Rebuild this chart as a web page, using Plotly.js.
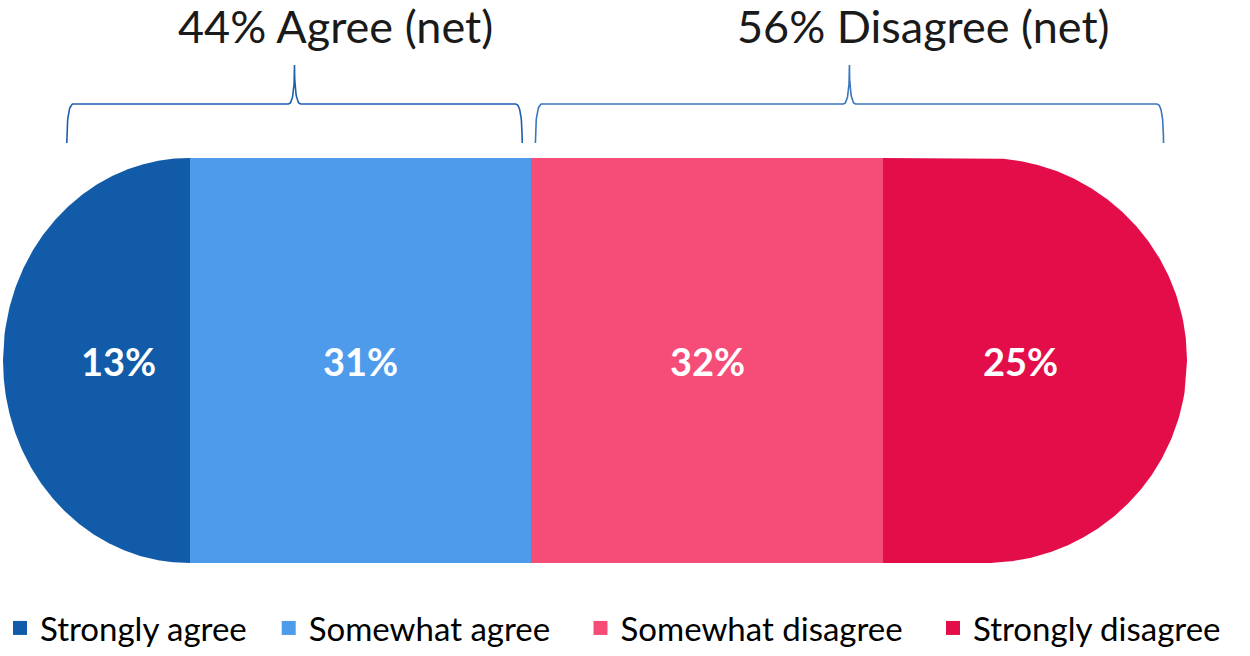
<!DOCTYPE html>
<html>
<head>
<meta charset="utf-8">
<script src="https://cdn.plot.ly/plotly-3.0.1.min.js"></script>
<style>html,body{margin:0;padding:0;background:#fff;}#chart{width:1250px;height:656px;}</style>
</head>
<body>
<div id="chart"></div>
<script>
// ---------- data ----------
const categories = ['Strongly agree', 'Somewhat agree', 'Somewhat disagree', 'Strongly disagree'];
const values = [13, 31, 32, 25];
const netLabels = ['Agree (net)', 'Disagree (net)'];
const netValues = [44, 56];
const netGroups = [[0, 1], [2, 3]];

// ---------- style ----------
const colors = ['#115BA9', '#4E9BEB', '#F54D78', '#E30E49'];
const W = 1250, H = 656;
const PX_PER_UNIT = 11, ZERO_PX = 47;          // x scale
const Y_PX_PER_UNIT = 202.5, Y_ZERO_PX = 360.5; // y scale (bar half-height = 1)
const capOverhangL = 4.0, capOverhangR = 2.64; // how far rounded ends reach past data
const capRxL = 16.9, capRxR = 18.36;           // horizontal radius of end caps
const braceInsets = [[1.8, 0.8], [0.4, -0.5]];
const braceY = {bottom: 1.074, flat: 1.267, peak: 1.459};
const braceCorner = 0.6, braceCusp = 0.55;
const titleX = [26.27, 79.7], titleY = 1.652;
const textFont = 'Lato, "Open Sans", sans-serif';
const legendPads = [2, 3, 3, 0]; // trailing non-breaking spaces per legend entry

// ---------- derived ----------
const total = values.reduce((a, b) => a + b, 0);
const cum = [0];
values.forEach((v, i) => cum.push(cum[i] + v));
const xStart = cum[0] - capOverhangL;
const xEnd = total + capOverhangR;
const cL = xStart + capRxL, cR = xEnd - capRxR;

function halfH(x) {
  if (x < cL) { const d = (cL - x) / capRxL; return Math.sqrt(Math.max(0, 1 - d * d)); }
  if (x > cR) { const d = (x - cR) / capRxR; return Math.sqrt(Math.max(0, 1 - d * d)); }
  return 1;
}

const traces = [];
values.forEach((v, i) => {
  const a = i === 0 ? xStart : cum[i];
  const b = i === values.length - 1 ? xEnd : cum[i + 1];
  const N = 240, xs = [], ys = [];
  for (let k = 0; k <= N; k++) { const x = a + (b - a) * k / N; xs.push(x); ys.push(halfH(x)); }
  for (let k = N; k >= 0; k--) { const x = a + (b - a) * k / N; xs.push(x); ys.push(-halfH(x)); }
  traces.push({
    type: 'scatter', mode: 'lines', x: xs, y: ys, fill: 'toself',
    fillcolor: colors[i], line: {width: 0, color: colors[i]},
    hoverinfo: 'skip', showlegend: false
  });
});

function quad(p0, p1, p2, n, xs, ys) {
  for (let k = 0; k <= n; k++) {
    const t = k / n, u = 1 - t;
    xs.push(u * u * p0[0] + 2 * u * t * p1[0] + t * t * p2[0]);
    ys.push(u * u * p0[1] + 2 * u * t * p1[1] + t * t * p2[1]);
  }
}

const annotations = [];
netGroups.forEach((g, gi) => {
  const x0 = cum[g[0]] + braceInsets[gi][0];
  const x1 = cum[g[g.length - 1] + 1] - braceInsets[gi][1];
  const xm = (x0 + x1) / 2;
  const {bottom, flat, peak} = braceY;
  const xs = [], ys = [];
  quad([x0, bottom], [x0, flat], [x0 + braceCorner, flat], 20, xs, ys);
  quad([xm - braceCusp, flat], [xm, flat], [xm, peak], 20, xs, ys);
  quad([xm, peak], [xm, flat], [xm + braceCusp, flat], 20, xs, ys);
  quad([x1 - braceCorner, flat], [x1, flat], [x1, bottom], 20, xs, ys);
  traces.push({
    type: 'scatter', mode: 'lines', x: xs, y: ys,
    line: {color: gi === 0 ? '#1F5FAE' : '#3A76BE', width: 1.6},
    hoverinfo: 'skip', showlegend: false
  });
  annotations.push({
    x: titleX[gi], y: titleY, xref: 'x', yref: 'y', showarrow: false,
    text: netValues[gi] + '% ' + netLabels[gi],
    font: {family: textFont, size: 45, color: '#1A1A1A'}
  });
});

values.forEach((v, i) => {
  annotations.push({
    x: cum[i] + v / 2, y: 0, xref: 'x', yref: 'y', showarrow: false,
    text: '<b>' + v + '%</b>',
    font: {family: textFont, size: 38, color: '#FFFFFF'}
  });
});

categories.forEach((c, i) => {
  traces.push({
    type: 'scatter', mode: 'markers', x: [null], y: [null],
    name: c + '\u00a0'.repeat(legendPads[i]),
    marker: {symbol: 'square', size: 14, color: colors[i]}, hoverinfo: 'skip'
  });
});

const layout = {
  width: W, height: H,
  margin: {l: 0, r: 0, t: 0, b: 0},
  paper_bgcolor: '#FFFFFF', plot_bgcolor: '#FFFFFF',
  xaxis: {range: [-ZERO_PX / PX_PER_UNIT, (W - ZERO_PX) / PX_PER_UNIT], visible: false, fixedrange: true},
  yaxis: {range: [-(H - Y_ZERO_PX) / Y_PX_PER_UNIT, Y_ZERO_PX / Y_PX_PER_UNIT], visible: false, fixedrange: true},
  showlegend: true,
  legend: {
    orientation: 'h', x: 0, xanchor: 'left', y: 0, yanchor: 'bottom',
    font: {family: textFont, size: 33, color: '#000000'},
    bgcolor: 'rgba(0,0,0,0)', itemclick: false, itemdoubleclick: false
  },
  annotations: annotations,
  hovermode: false
};

Plotly.newPlot('chart', traces, layout, {displayModeBar: false, staticPlot: true});
</script>
</body>
</html>
